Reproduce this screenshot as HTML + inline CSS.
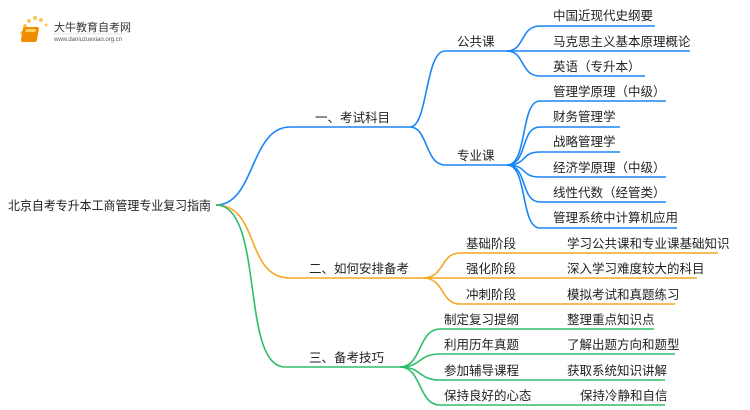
<!DOCTYPE html>
<html><head><meta charset="utf-8"><style>
html,body{margin:0;padding:0;background:#fff;}
svg{display:block;}
text{font-family:"Liberation Sans","Noto Sans CJK SC",sans-serif;font-size:12.5px;fill:#222;}
</style></head><body>
<svg width="750" height="410" viewBox="0 0 750 410" xmlns="http://www.w3.org/2000/svg">
<g>
<circle cx="25" cy="26" r="2" fill="#f9c74f"/><circle cx="29" cy="21" r="2" fill="#f9c74f"/><circle cx="35" cy="18" r="2" fill="#f9c74f"/><circle cx="41" cy="20" r="2" fill="#f9c74f"/><circle cx="22" cy="33" r="2" fill="#f9c74f"/><circle cx="24" cy="40" r="1.5" fill="#f9c74f"/><circle cx="46" cy="25" r="1.5" fill="#f9c74f"/>
<rect x="28" y="27" width="16" height="15" rx="2" fill="#f08c00" transform="skewX(-10)"/>
<rect x="31" y="29" width="10" height="3" fill="#ffd166" transform="skewX(-10)"/>
<text x="54" y="31" style="font-size:11px;fill:#333">大牛教育自考网</text>
<line x1="54" y1="34" x2="124" y2="34" stroke="#ccc" stroke-width="0.6"/>
<text x="54" y="41" style="font-size:6px;fill:#555">www.daniuzuexiao.org.cn</text>
</g>
<g fill="none" stroke-width="1.6">
<g stroke="#1a86f5">
<path d="M216,205 C255,205 250,127 290,127 L410,127"/>
<path d="M410,127 C428,127 425,51 445,51 L507,51"/>
<path d="M410,127 C428,127 425,165 445,165 L507,165"/>
<path d="M507,51 C525,51 520,26 540,26 L655,26"/>
<path d="M507,51 L690,51"/>
<path d="M507,51 C525,51 520,76 540,76 L645,76"/>
<path d="M507,165 C528,165 520,101 540,101 L666,101"/>
<path d="M507,165 C528,165 520,127 540,127 L620,127"/>
<path d="M507,165 C528,165 520,152 540,152 L620,152"/>
<path d="M507,165 C528,165 520,177 540,177 L666,177"/>
<path d="M507,165 C528,165 520,202 540,202 L666,202"/>
<path d="M507,165 C528,165 520,228 540,228 L677,228"/>
</g>
<g stroke="#f5a623">
<path d="M216,205 C260,205 245,278 290,278 L423,278"/>
<path d="M423,278 C445,278 440,253 460,253 L718,253"/>
<path d="M423,278 L697,278"/>
<path d="M423,278 C445,278 440,304 460,304 L675,304"/>
</g>
<g stroke="#2ebd6b">
<path d="M216,205 C265,205 240,367 285,367 L400,367"/>
<path d="M400,367 C422,367 418,329 440,329 L654,329"/>
<path d="M400,367 C422,367 418,354 440,354 L675,354"/>
<path d="M400,367 C422,367 418,380 440,380 L665,380"/>
<path d="M400,367 C422,367 418,405 440,405 L665,405"/>
</g>
</g>
<text x="8" y="210" textLength="203" lengthAdjust="spacingAndGlyphs">北京自考专升本工商管理专业复习指南</text>
<text x="315" y="122">一、考试科目</text>
<text x="457" y="46">公共课</text>
<text x="457" y="160">专业课</text>
<text x="553" y="20">中国近现代史纲要</text>
<text x="553" y="46">马克思主义基本原理概论</text>
<text x="553" y="71">英语（专升本）</text>
<text x="553" y="96">管理学原理（中级）</text>
<text x="553" y="121">财务管理学</text>
<text x="553" y="146">战略管理学</text>
<text x="553" y="172">经济学原理（中级）</text>
<text x="553" y="197">线性代数（经管类）</text>
<text x="553" y="222">管理系统中计算机应用</text>
<text x="309" y="273">二、如何安排备考</text>
<text x="466" y="248">基础阶段</text>
<text x="466" y="273">强化阶段</text>
<text x="466" y="299">冲刺阶段</text>
<text x="567" y="248">学习公共课和专业课基础知识</text>
<text x="567" y="273">深入学习难度较大的科目</text>
<text x="567" y="299">模拟考试和真题练习</text>
<text x="309" y="362">三、备考技巧</text>
<text x="444" y="324">制定复习提纲</text>
<text x="444" y="349">利用历年真题</text>
<text x="444" y="375">参加辅导课程</text>
<text x="444" y="400">保持良好的心态</text>
<text x="567" y="324">整理重点知识点</text>
<text x="567" y="349">了解出题方向和题型</text>
<text x="567" y="375">获取系统知识讲解</text>
<text x="580" y="400">保持冷静和自信</text>
</svg>
</body></html>
